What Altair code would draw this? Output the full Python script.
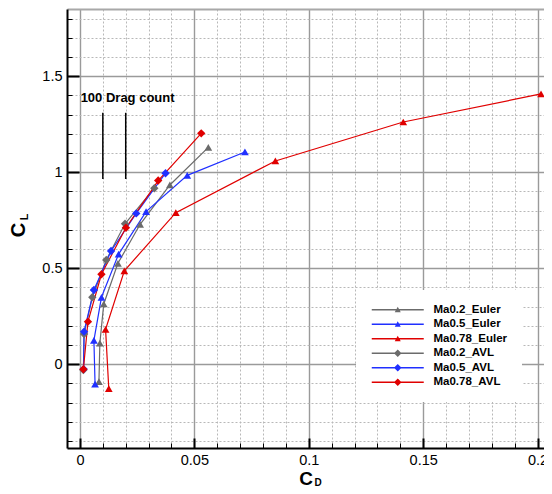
import altair as alt
import pandas as pd

# ---------------- data ----------------
names = ["Ma0.2_Euler", "Ma0.5_Euler", "Ma0.78_Euler", "Ma0.2_AVL", "Ma0.5_AVL", "Ma0.78_AVL"]
colors = ["#6b6b6b", "#2030ff", "#e00000", "#6b6b6b", "#2030ff", "#e00000"]

cd_m02_euler = [0.0083, 0.0087, 0.0104, 0.0166, 0.0263, 0.0393, 0.0561]
cl_m02_euler = [-0.090, 0.110, 0.314, 0.526, 0.729, 0.934, 1.130]
cd_m05_euler = [0.0066, 0.0061, 0.0094, 0.0169, 0.0289, 0.0469, 0.0721]
cl_m05_euler = [-0.103, 0.125, 0.349, 0.574, 0.795, 0.984, 1.106]
cd_m078_euler = [0.0126, 0.0112, 0.0194, 0.0419, 0.0854, 0.1413, 0.2015]
cl_m078_euler = [-0.127, 0.182, 0.487, 0.790, 1.059, 1.262, 1.408]

cd_m02_avl = [0.0015, 0.0018, 0.0054, 0.0115, 0.0197, 0.0325]
cl_m02_avl = [-0.030, 0.158, 0.349, 0.543, 0.732, 0.917]
cd_m05_avl = [0.0016, 0.0018, 0.0061, 0.0136, 0.0246, 0.0374]
cl_m05_avl = [-0.025, 0.170, 0.387, 0.590, 0.786, 0.995]
cd_m078_avl = [0.0015, 0.0035, 0.0094, 0.0201, 0.0342, 0.0530]
cl_m078_avl = [-0.026, 0.222, 0.469, 0.711, 0.957, 1.203]

drag_cd = [0.01, 0.02]
drag_cl_low = [0.965, 0.965]
drag_cl_high = [1.31, 1.31]
drag_label = "100 Drag count"
drag_label_cd = 0.0003
drag_label_cl = 1.387

x_major = [0, 0.05, 0.1, 0.15, 0.2]
y_major = [0, 0.5, 1, 1.5]

# ---------------- tables ----------------
series_data = [
    (names[0], "Euler", cd_m02_euler, cl_m02_euler),
    (names[1], "Euler", cd_m05_euler, cl_m05_euler),
    (names[2], "Euler", cd_m078_euler, cl_m078_euler),
    (names[3], "AVL", cd_m02_avl, cl_m02_avl),
    (names[4], "AVL", cd_m05_avl, cl_m05_avl),
    (names[5], "AVL", cd_m078_avl, cl_m078_avl),
]
rows = []
for s, kind, cds, cls in series_data:
    for i, (a, b) in enumerate(zip(cds, cls)):
        rows.append({"series": s, "kind": kind, "cd": a, "cl": b, "idx": i})
df = pd.DataFrame(rows)

x_minor = [round(i * 0.01, 2) for i in range(0, 21) if i % 5 != 0]
y_minor = [round(i * 0.1, 1) for i in range(-4, 19) if i % 5 != 0]

FONT = "Liberation Sans"
xs = alt.Scale(domain=[-0.00566, 0.2028], nice=False, zero=False)
ys = alt.Scale(domain=[-0.436, 1.8505], nice=False, zero=False)
cscale = alt.Scale(domain=names, range=colors)

euler_path = "M-1,-0.18H12V0.18H-1Z M5.5,-0.75L6.25,0.6L4.75,0.6Z"
avl_path = "M-1,-0.18H12V0.18H-1Z M5.5,-0.95L6.45,0L5.5,0.95L4.55,0Z"
shape_range = [euler_path] * 3 + [avl_path] * 3

# axes
ax_main = alt.Axis(values=x_major, orient="bottom", format="~g", title=None, ticks=False, tickSize=0,
                   labelFont=FONT, labelFontSize=14.5, labelColor="black", labelPadding=5,
                   labelFlush=False, domainColor="black", domainWidth=2,
                   grid=True, gridColor="#9a9a9a", gridWidth=1.4)
ay_main = alt.Axis(values=y_major, orient="left", format="~g", title=None, ticks=False, tickSize=0,
                   labelFont=FONT, labelFontSize=14.5, labelColor="black", labelPadding=5,
                   labelFlush=False, domainColor="black", domainWidth=2,
                   grid=True, gridColor="#9a9a9a", gridWidth=1.4)
ax_minor = alt.Axis(values=x_minor, orient="bottom", title=None, labels=False, ticks=False, domain=False,
                    grid=True, gridColor="#b8b8b8", gridWidth=1, gridDash=[2, 2])
ay_minor = alt.Axis(values=y_minor, orient="left", title=None, labels=False, ticks=False, domain=False,
                    grid=True, gridColor="#b8b8b8", gridWidth=1, gridDash=[2, 2])
ax_tmaj = alt.Axis(values=x_major, orient="bottom", title=None, labels=False, domain=False,
                   grid=False, ticks=True, tickSize=10, offset=-10, tickWidth=2, tickColor="black")
ay_tmaj = alt.Axis(values=y_major, orient="left", title=None, labels=False, domain=False,
                   grid=False, ticks=True, tickSize=12, offset=-12, tickWidth=2, tickColor="black")
ax_tmin = alt.Axis(values=x_minor, orient="bottom", title=None, labels=False, domain=False,
                   grid=False, ticks=True, tickSize=5, offset=-5, tickWidth=1, tickColor="black")
ay_tmin = alt.Axis(values=y_minor, orient="left", title=None, labels=False, domain=False,
                   grid=False, ticks=True, tickSize=5, offset=-5, tickWidth=1, tickColor="black")
ax_top = alt.Axis(orient="top", title=None, labels=False, ticks=False, grid=False,
                  domain=True, domainColor="#a8a8a8", domainWidth=2)

lines = alt.Chart(df).mark_line(strokeWidth=1.2).encode(
    x=alt.X("cd:Q", scale=xs, axis=ax_main),
    y=alt.Y("cl:Q", scale=ys, axis=ay_main),
    stroke=alt.Stroke("series:N", scale=cscale, legend=None),
    order=alt.Order("idx:Q"),
)

euler_pts = alt.Chart(df).transform_filter("datum.kind == 'Euler'").mark_point(
    shape="triangle-up", filled=True, size=60, opacity=1
).encode(
    x=alt.X("cd:Q", scale=xs, axis=ax_minor),
    y=alt.Y("cl:Q", scale=ys, axis=ay_minor),
    fill=alt.Fill("series:N", scale=cscale, legend=None),
)

avl_pts = alt.Chart(df).transform_filter("datum.kind == 'AVL'").mark_point(
    shape="diamond", filled=True, size=70, opacity=1
).encode(
    x=alt.X("cd:Q", scale=xs, axis=ax_tmaj),
    y=alt.Y("cl:Q", scale=ys, axis=ay_tmaj),
    fill=alt.Fill("series:N", scale=cscale, legend=None),
)

leg = alt.Legend(title=None, orient="none", legendX=289, legendY=281, fillColor="white",
                 padding=14, labelFont=FONT, labelFontSize=11.5, labelFontWeight="bold",
                 labelColor="black", symbolSize=64, symbolStrokeWidth=0, labelOffset=52,
                 rowPadding=1.5, symbolOpacity=1)

# invisible layer that only provides the legend (line + marker symbols)
legend_layer = alt.Chart(df).mark_point(filled=True, opacity=0).encode(
    x=alt.X("cd:Q", scale=xs, axis=ax_tmin),
    y=alt.Y("cl:Q", scale=ys, axis=ay_tmin),
    color=alt.Color("series:N", scale=cscale, legend=leg),
    shape=alt.Shape("series:N", scale=alt.Scale(domain=names, range=shape_range), legend=leg),
)

rules_df = pd.DataFrame({"cd": drag_cd, "lo": drag_cl_low, "hi": drag_cl_high})
rules = alt.Chart(rules_df).mark_rule(color="black", strokeWidth=1.5).encode(
    x=alt.X("cd:Q", scale=xs, axis=ax_top),
    y=alt.Y("lo:Q", scale=ys, axis=None),
    y2="hi:Q",
)

text_df = pd.DataFrame({"cd": [drag_label_cd], "cl": [drag_label_cl], "t": [drag_label]})
drag_text = alt.Chart(text_df).mark_text(
    align="left", baseline="middle", font=FONT, fontSize=13, fontWeight="bold", color="black"
).encode(
    x=alt.X("cd:Q", scale=xs, axis=None),
    y=alt.Y("cl:Q", scale=ys, axis=None),
    text="t:N",
)

def label(txt, px, py, size, angle=0, baseline="middle"):
    return alt.Chart(pd.DataFrame({"t": [txt]})).mark_text(
        font=FONT, fontSize=size, fontWeight="bold", color="black",
        align="center", baseline=baseline, angle=angle
    ).encode(x=alt.value(px), y=alt.value(py), text="t:N")

titles = [
    label("C", -48, 221, 20, 270),
    label("L", -42, 208, 11, 270),
    label("C", 239, 476, 19, baseline="alphabetic"),
    label("D", 251, 477, 10, baseline="alphabetic"),
]

chart = alt.layer(legend_layer, lines, euler_pts, avl_pts, rules, drag_text, *titles).resolve_axis(
    x="independent", y="independent"
).properties(
    width=477, height=439,
    autosize=alt.AutoSizeParams(type="none"),
    padding={"left": 59, "top": 1, "right": 0, "bottom": 38},
).configure_view(strokeWidth=0)

chart.save("out.html", embed_options={"renderer": "svg", "actions": False})
